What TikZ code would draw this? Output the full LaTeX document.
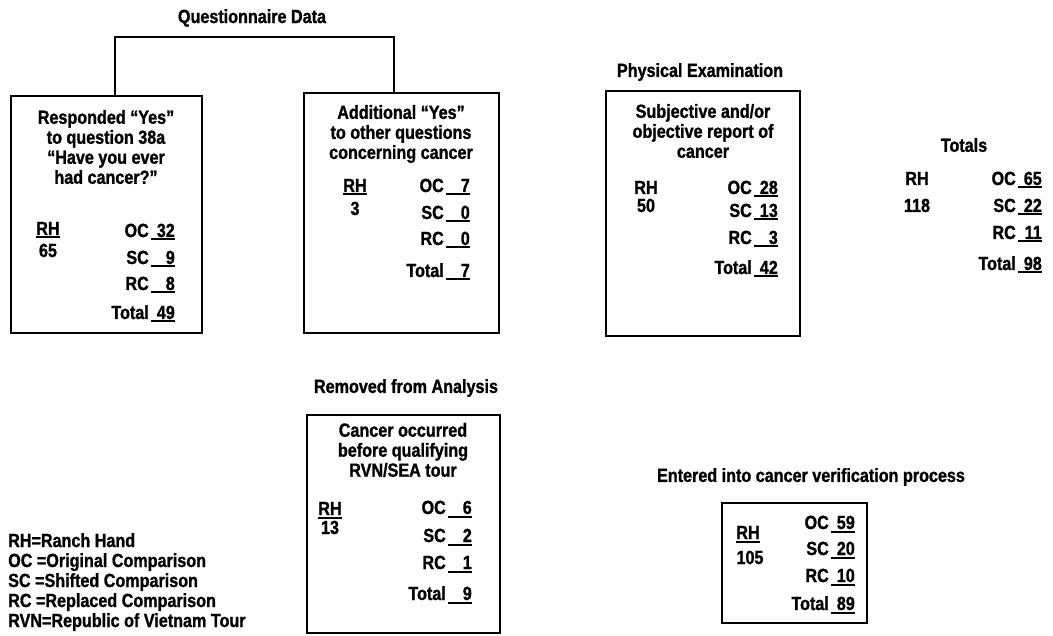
\documentclass[tikz,border=0pt]{standalone}
\usepackage{fontspec}
\setmainfont{Liberation Sans}[FakeStretch=0.85, BoldFeatures={FakeBold=1.2}]
\usetikzlibrary{positioning}
% count with a heavy blank line under the number
\newcommand{\tally}[2]{#1\hspace{2pt}\rlap{\rule[-3.5pt]{24pt}{2pt}}\makebox[24pt][r]{#2}}
\newcommand{\barRH}{\setbox0\hbox{RH}\rlap{\rule[-3.5pt]{\wd0}{2pt}}\box0}

\begin{document}
\begin{tikzpicture}[x=1pt, y=-1pt,
    txt/.style={font=\fontsize{19}{20}\selectfont\bfseries, inner sep=0pt},
    hdr/.style={txt, align=center},
    row/.style={txt, anchor=base east},
    col/.style={txt, anchor=base},
    cbox/.style={draw, line width=2.5pt, inner sep=0pt, outer sep=0pt},
    link/.style={line width=2.5pt}
  ]
  \useasboundingbox (0,0) rectangle (1053,636);

  % questionnaire branch
  \node[txt] (qtitle) at (252,18) {Questionnaire Data};
  \node[cbox, minimum width=191pt, minimum height=237pt] (yesbox) at (106.5,214.5) {};
  \node[cbox, minimum width=195pt, minimum height=240pt] (morebox) at (401.5,213) {};
  \coordinate (qjoin) at (254,37);
  \draw[link] ([xshift=8.5pt]yesbox.north) |- (qjoin) -| ([xshift=-7.5pt]morebox.north);

  \node[hdr] (yeshead) at (106,147) {Responded ``Yes''\\to question 38a\\``Have you ever\\had cancer?''};
  \node[col] (yesrh) at (48,235) {\barRH};
  \node[col] (yesrhn) at (48,257) {65};
  \node[row] (yesoc) at (175,237) {\tally{OC}{32}};
  \node[row] (yessc) at (175,264) {\tally{SC}{9}};
  \node[row] (yesrc) at (175,290) {\tally{RC}{8}};
  \node[row] (yestot) at (175,319) {\tally{Total}{49}};

  \node[hdr] (morehead) at (401,134) {Additional ``Yes''\\to other questions\\concerning cancer};
  \node[col] (morerh) at (355,192) {\barRH};
  \node[col] (morerhn) at (355,215) {3};
  \node[row] (moreoc) at (470,192) {\tally{OC}{7}};
  \node[row] (moresc) at (470,219) {\tally{SC}{0}};
  \node[row] (morerc) at (470,245) {\tally{RC}{0}};
  \node[row] (moretot) at (470,277) {\tally{Total}{7}};

  % physical examination
  \node[txt] (examtitle) at (700,72) {Physical Examination};
  \node[cbox, minimum width=194pt, minimum height=245pt] (exambox) at (703,213.5) {};
  \node[hdr] (examhead) at (703,131) {Subjective and/or\\objective report of\\cancer};
  \node[col] (examrh) at (646,194) {RH};
  \node[col] (examrhn) at (646,212) {50};
  \node[row] (examoc) at (778,194) {\tally{OC}{28}};
  \node[row] (examsc) at (778,217) {\tally{SC}{13}};
  \node[row] (examrc) at (778,244) {\tally{RC}{3}};
  \node[row] (examtot) at (778,274) {\tally{Total}{42}};

  % totals
  \node[txt] (sumtitle) at (964,145) {Totals};
  \node[col] (sumrh) at (917,185) {RH};
  \node[col] (sumrhn) at (917,212) {118};
  \node[row] (sumoc) at (1042,185) {\tally{OC}{65}};
  \node[row] (sumsc) at (1042,212) {\tally{SC}{22}};
  \node[row] (sumrc) at (1042,239) {\tally{RC}{11}};
  \node[row] (sumtot) at (1042,270) {\tally{Total}{98}};

  % removed from analysis
  \node[txt] (gonetitle) at (406,388) {Removed from Analysis};
  \node[cbox, minimum width=193pt, minimum height=218pt] (gonebox) at (403.5,524) {};
  \node[hdr] (gonehead) at (403,450) {Cancer occurred\\before qualifying\\RVN/SEA tour};
  \node[col] (gonerh) at (330,515) {\barRH};
  \node[col] (gonerhn) at (330,534) {13};
  \node[row] (goneoc) at (472,514) {\tally{OC}{6}};
  \node[row] (gonesc) at (472,542) {\tally{SC}{2}};
  \node[row] (gonerc) at (472,569) {\tally{RC}{1}};
  \node[row] (gonetot) at (472,600) {\tally{Total}{9}};

  % verification
  \node[txt] (vertitle) at (811,477) {Entered into cancer verification process};
  \node[cbox, minimum width=145pt, minimum height=120pt] (verbox) at (794.5,563) {};
  \node[col] (verrh) at (748,539) {\barRH};
  \node[col] (verrhn) at (750,564) {105};
  \node[row] (veroc) at (855,529) {\tally{OC}{59}};
  \node[row] (versc) at (855,555) {\tally{SC}{20}};
  \node[row] (verrc) at (855,582) {\tally{RC}{10}};
  \node[row] (vertot) at (855,610) {\tally{Total}{89}};

  % key
  \node[txt, align=left, anchor=base west] (key) at (8,627) {RH=Ranch Hand\\OC =Original Comparison\\SC =Shifted Comparison\\RC =Replaced Comparison\\RVN=Republic of Vietnam Tour};
\end{tikzpicture}
\end{document}
